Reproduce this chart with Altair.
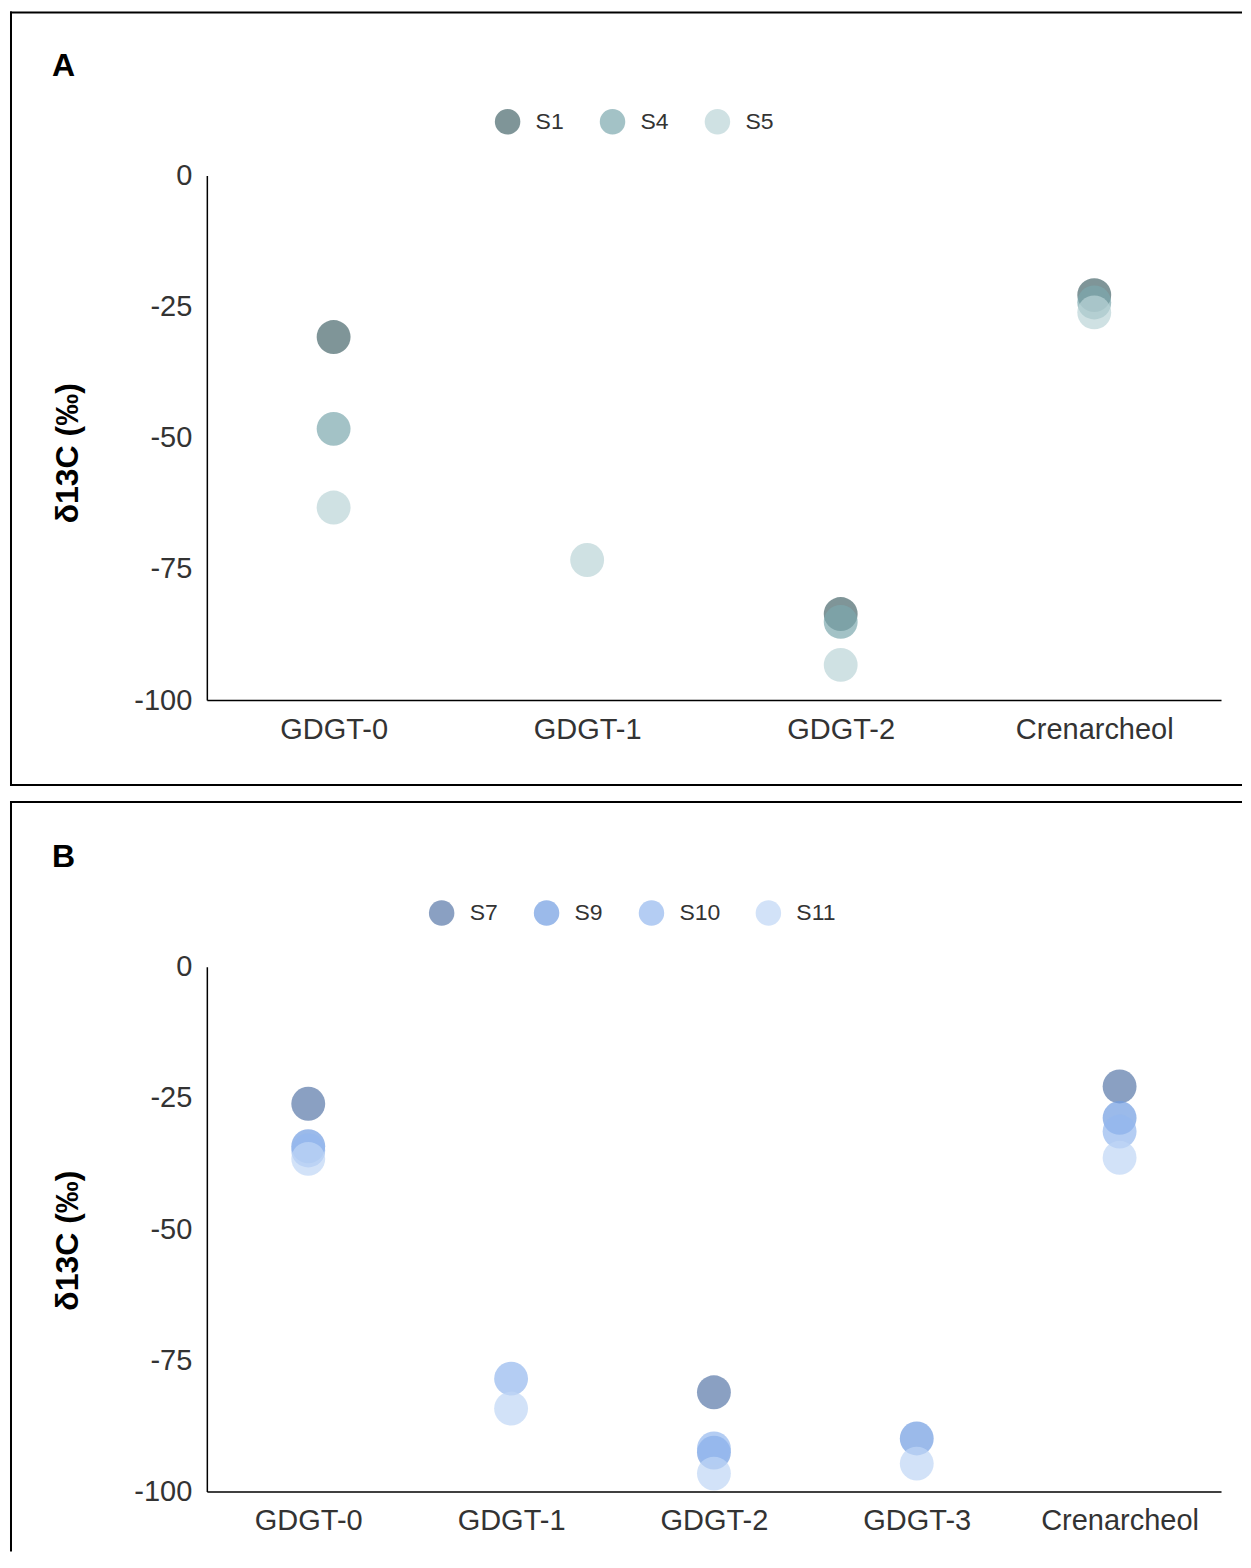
import altair as alt
import pandas as pd

# ---------------- data ----------------
cats_a = ["GDGT-0", "GDGT-1", "GDGT-2", "Crenarcheol"]
series_a = ["S1", "S4", "S5"]
colors_a = ["#48686c", "#7ca8ae", "#bad4d7"]
s1 = [-30.8, None, -83.6, -22.8]
s4 = [-48.3, None, -85.1, -24.2]
s5 = [-63.3, -73.3, -93.3, -26.1]

cats_b = ["GDGT-0", "GDGT-1", "GDGT-2", "GDGT-3", "Crenarcheol"]
series_b = ["S7", "S9", "S10", "S11"]
colors_b = ["#5877a8", "#709ce1", "#94b8ee", "#bfd6f5"]
s7 = [-26.1, None, -81.1, None, -22.8]
s9 = [-34.2, None, -92.6, -89.9, -28.8]
s10 = [-35.0, -78.5, -91.8, None, -31.4]
s11 = [-36.6, -84.2, -96.6, -94.7, -36.4]

y_ticks = [0, -25, -50, -75, -100]

FONT = "Liberation Sans"
W, H = 1015, 525


def long_df(cats, names, lists):
    rows = []
    for name, vals in zip(names, lists):
        for c, v in zip(cats, vals):
            if v is not None:
                rows.append({"cat": c, "series": name, "val": v})
    return pd.DataFrame(rows)


def panel(letter, cats, names, colors, lists, legend_x, top_y, bottom_y, draw_bottom,
          title_y):
    df = long_df(cats, names, lists)
    one = pd.DataFrame({"k": [0]})

    pts = alt.Chart(df).mark_circle(size=1150, opacity=0.7).encode(
        x=alt.X("cat:N", sort=cats, scale=alt.Scale(domain=cats),
                axis=alt.Axis(title=None, labelAngle=0, ticks=False, tickSize=0,
                              labelPadding=15, labelFontSize=29, labelColor="#333",
                              labelFont=FONT, domainColor="#000", domainWidth=1.5,
                              grid=False)),
        y=alt.Y("val:Q", scale=alt.Scale(domain=[-100, 0], nice=False, zero=False),
                axis=alt.Axis(values=y_ticks, title="δ13C (‰)", ticks=False, tickSize=0,
                              labelPadding=15, labelFontSize=29, labelColor="#333",
                              labelFont=FONT, domainColor="#000", domainWidth=1.5,
                              grid=False,
                              labelExpr="datum.value == 0 ? '0' : '-' + abs(datum.value)",
                              titleFont=FONT, titleFontSize=32, titleFontWeight="bold",
                              titleColor="#000", titleX=-139, titleY=title_y,
                              titleAngle=-90, titleAlign="center",
                              titleBaseline="middle")),
        color=alt.Color("series:N", scale=alt.Scale(domain=names, range=colors),
                        legend=alt.Legend(title=None, orient="none", legendX=legend_x,
                                          legendY=-67, direction="horizontal",
                                          symbolType="circle", symbolSize=650,
                                          symbolOpacity=0.7, symbolStrokeWidth=0,
                                          labelFontSize=23, labelFont=FONT,
                                          labelColor="#333", labelOffset=15,
                                          columnPadding=35, padding=0)),
    )

    label = alt.Chart(one).mark_text(text=letter, font=FONT, fontSize=32,
                                     fontWeight="bold", align="left",
                                     baseline="middle", color="#000").encode(
        x=alt.value(-155), y=alt.value(-110))

    rule_style = dict(color="#000", strokeWidth=2, strokeCap="square")
    left = alt.Chart(one).mark_rule(**rule_style).encode(
        x=alt.value(-196), y=alt.value(top_y), y2=alt.value(bottom_y))
    top = alt.Chart(one).mark_rule(**rule_style).encode(
        x=alt.value(-196), x2=alt.value(1035), y=alt.value(top_y))
    layers = [left, top]
    if draw_bottom:
        bot = alt.Chart(one).mark_rule(**rule_style).encode(
            x=alt.value(-196), x2=alt.value(1035), y=alt.value(bottom_y))
        layers.append(bot)

    return alt.layer(*layers, label, pts).properties(width=W, height=H).resolve_scale(
        color="independent")


pa = panel("A", cats_a, series_a, colors_a, [s1, s4, s5], 288, -163, 610, True, H / 2 + 15)
pb = panel("B", cats_b, series_b, colors_b, [s7, s9, s10, s11], 222, -165, 584, False,
           H / 2 + 11)

chart = alt.vconcat(pa, pb, spacing=13).resolve_scale(color="independent").properties(
    padding={"left": 1, "top": 2, "right": 0, "bottom": 0}
).configure(font=FONT).configure_view(strokeWidth=0)

chart.save("out.html", embed_options={"renderer": "svg", "actions": False})
